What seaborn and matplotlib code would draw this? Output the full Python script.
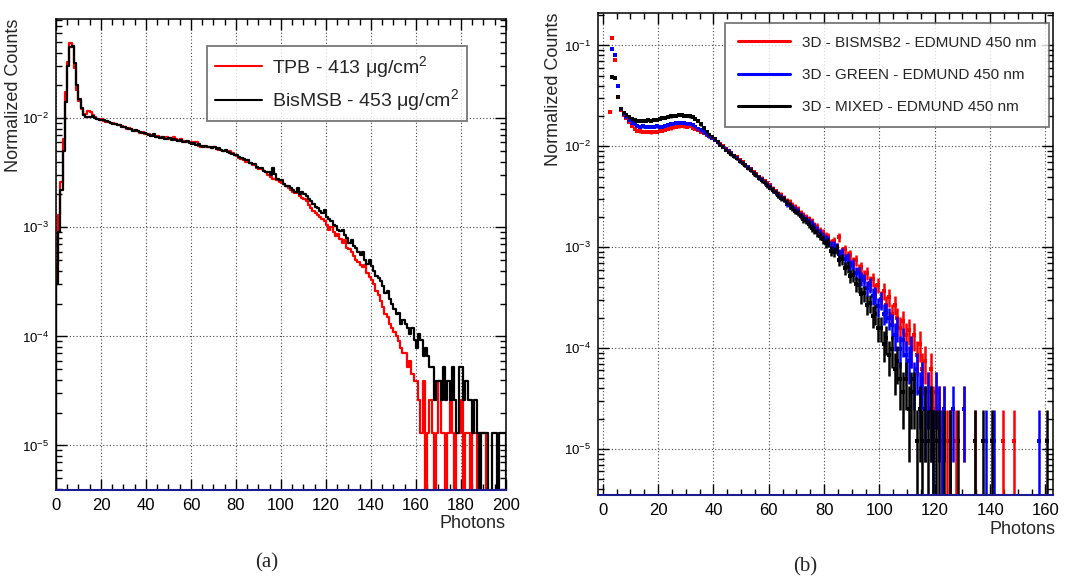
import numpy as np
import pandas as pd
import matplotlib
matplotlib.use("Agg")
import matplotlib.pyplot as plt
import seaborn as sns
from matplotlib.lines import Line2D
from matplotlib.ticker import LogLocator, NullFormatter, MultipleLocator

# ---------------- data (values in units of 1e-4) ----------------
UNIT = 1e-4
a_edges = np.arange(0, 201)
a_tpb = [4.5, 13, 26, 65, 175, 330, 490, 460, 290, 180,
         145, 122, 108, 110, 116, 114, 106, 103, 99, 96,
         98, 95, 93, 92, 90, 91, 88, 87, 86, 85,
         83, 80, 81, 79, 78, 76, 77, 74, 75, 72,
         71, 72, 70, 70, 68, 69, 67, 66, 66, 67,
         65, 66, 67, 64, 63, 64, 62, 62, 61, 60,
         61, 59, 60, 56, 55, 56, 55, 54, 54, 53,
         55, 52, 51, 51, 50, 50, 49, 50, 48, 46,
         45, 43, 42, 41, 40, 40, 39, 37, 37, 35,
         34, 34, 33, 32, 30, 29, 28, 28, 27, 26,
         25.5, 25, 24, 23, 22, 21, 20.5, 21, 19.5, 18.5,
         18, 17.5, 16, 15, 14, 13.5, 13, 12.5, 12, 11.5,
         10.5, 9.5, 10, 9, 8.3, 8.6, 7.8, 7.2, 7.6, 6.5,
         6.3, 6.0, 5.5, 5.0, 4.8, 4.5, 4.3, 4.5, 3.8, 3.5,
         3.3, 3.0, 2.6, 2.4, 2.1, 1.85, 1.6, 1.5, 1.3, 1.2,
         1.1, 1.0, 0.9, 0.78, 0.7, 0.7, 0.52, 0.6, 0.45, 0.39,
         0.39, 0.26, 0.13, 0.39, 0, 0.13, 0.26, 0.13, 0, 0.13,
         0.39, 0.13, 0.13, 0, 0.13, 0.26, 0.13, 0, 0.13, 0.13,
         0.26, 0, 0.13, 0.13, 0, 0.13, 0.13, 0, 0.13, 0.13,
         0.13, 0, 0, 0, 0, 0, 0, 0, 0, 0]
a_bismsb = [3.0, 9, 22, 50, 140, 300, 450, 460, 320, 200,
            150, 125, 108, 102, 103, 102, 104, 100, 99, 97,
            97, 96, 94, 93, 91, 89, 89, 86, 87, 84,
            83, 82, 80, 80, 77, 78, 76, 75, 73, 74,
            71, 70, 69, 71, 67, 68, 66, 67, 64, 65,
            66, 63, 64, 63, 62, 63, 61, 60, 62, 59,
            58, 59, 57, 58, 56, 55, 56, 54, 55, 53,
            54, 52, 53, 51, 50, 51, 49, 48, 47, 46,
            46, 44, 43, 42, 41, 41, 39, 38, 38, 36,
            35, 35, 33, 32, 32, 30, 35, 31, 28, 27,
            27, 25, 24, 24, 23, 22, 21, 23, 20, 21,
            20, 19.5, 18, 17.5, 16.5, 15.5, 15, 14, 13.5, 14.5,
            12.5, 12, 11.5, 10.5, 10.2, 9.5, 9.2, 9.4, 8.5, 8.0,
            7.2, 7.6, 6.8, 6.5, 6.0, 5.6, 5.9, 5.0, 4.6, 5.0,
            4.4, 4.0, 3.6, 3.4, 3.2, 2.9, 2.5, 2.6, 2.2, 2.0,
            1.8, 1.6, 1.65, 1.3, 1.4, 1.3, 1.2, 1.05, 1.2, 0.92,
            0.79, 1.05, 0.92, 0.66, 0.79, 0.66, 0.52, 0.52, 0.26, 0.39,
            0.39, 0.26, 0.52, 0.26, 0.39, 0.26, 0.52, 0.26, 0.13, 0.52,
            0.52, 0.26, 0.39, 0.26, 0.26, 0.13, 0.26, 0.13, 0, 0.13,
            0.13, 0.13, 0, 0, 0.13, 0.13, 0, 0.13, 0.13, 0.13]
a_labels = ["TPB - 413 \u03bcg/cm$^{2}$", "BisMSB - 453 \u03bcg/cm$^{2}$"]

ONE_COUNT_B = 0.123  # one count, same units
b_red = [0, 0, 220, 1200, 710, 310, 230, 205, 190, 175,
         160, 150, 143, 141, 140, 139, 140, 138, 139, 140,
         142, 143, 146, 148, 151, 154, 157, 158, 160, 158,
         157, 159, 153, 150, 145, 140, 136, 131, 126, 121,
         116, 110, 105, 100, 95, 90, 86, 81, 78, 73,
         70, 66, 63, 60, 56, 53, 50, 48, 45, 43,
         41, 38, 36, 34, 33, 31, 29, 28, 26, 25,
         24, 22, 21, 20, 19, 18, 16.5, 16, 14.5, 14,
         13, 12.5, 11, 11.5, 10, 12.5, 9, 9.5, 8.2, 8.4,
         7.0, 7.4, 6.0, 6.3, 5.2, 5.6, 4.4, 4.8, 3.7, 4.2,
         3.1, 3.7, 2.7, 3.2, 2.2, 2.7, 2.0, 1.6, 1.85, 1.35,
         1.5, 0.98, 1.35, 0.86, 1.1, 0.62, 0.74, 0.37, 0.62, 0.25,
         0.37, 0.25, 0.12, 0.25, 0.12, 0.12]
b_red_tail_bins = [127, 130, 134, 144, 148]
b_red_tail_vals = [0.12, 0.25, 0.12, 0.12, 0.12]

b_blue = [0, 0, 0, 930, 810, 395, 235, 210, 195, 182,
          172, 165, 160, 157, 158, 156, 157, 155, 156, 158,
          157, 155, 160, 164, 166, 168, 170, 171, 172, 170,
          168, 167, 162, 157, 150, 144, 138, 132, 126, 121,
          116, 110, 104, 99, 94, 89, 85, 80, 77, 72,
          69, 65, 62, 59, 55, 52, 49, 47, 44, 42,
          40, 37, 35, 33, 32, 30, 27, 26, 25, 24,
          23, 21, 20, 19, 18, 17, 16, 15, 14, 13,
          12, 11.8, 10.5, 10.3, 9.8, 8.5, 8.8, 7.6, 7.8, 6.5,
          6.8, 5.6, 5.5, 4.9, 4.7, 3.9, 4.2, 3.3, 3.4, 2.6,
          3.0, 2.2, 2.3, 2.0, 1.7, 1.35, 1.6, 0.98, 1.2, 0.86,
          0.74, 0.98, 0.49, 0.62, 0.37, 0.49, 0.25, 0.37, 0.25, 0.12,
          0.37, 0.25, 0.12, 0.25, 0, 0.12]
b_blue_tail_bins = [126, 130, 138, 141, 157]
b_blue_tail_vals = [0.25, 0.25, 0.12, 0.12, 0.12]

b_black = [0, 0, 0, 490, 480, 310, 235, 215, 205, 195,
           188, 183, 180, 178, 180, 179, 182, 180, 184, 183,
           186, 190, 192, 196, 198, 200, 202, 204, 203, 202,
           200, 198, 194, 188, 178, 165, 152, 140, 131, 125,
           118, 111, 104, 99, 93, 88, 84, 80, 76, 72,
           68, 65, 61, 58, 54, 52, 49, 46, 44, 41,
           39, 37, 35, 33, 31, 30, 28, 26, 24.5, 23,
           22, 20.5, 19, 18.5, 17, 15.5, 15, 14, 13, 12,
           11, 11.2, 9.2, 9.0, 9.6, 7.4, 7.6, 6.2, 6.4, 5.2,
           5.3, 4.3, 4.2, 3.4, 3.5, 2.7, 2.8, 2.1, 2.2, 1.6,
           1.6, 1.1, 1.25, 0.86, 0.98, 0.62, 0.74, 0.49, 0.37, 0.49,
           0.25, 0.37, 0.37, 0.12, 0.25, 0.12, 0.25, 0.12, 0.25, 0.12,
           0.12, 0.12, 0, 0.12, 0, 0.12]
b_black_tail_bins = [128, 134, 137, 140, 160]
b_black_tail_vals = [0.12, 0.12, 0.12, 0.12, 0.12]
b_labels = ["3D - BISMSB2 - EDMUND 450 nm", "3D - GREEN - EDMUND 450 nm",
            "3D - MIXED - EDMUND 450 nm"]

# ---------------- style ----------------
sns.set_theme(style="ticks")
plt.rcParams["font.family"] = ["Liberation Sans", "DejaVu Sans"]
plt.rcParams["mathtext.fontset"] = "custom"
plt.rcParams["mathtext.rm"] = "Liberation Sans"
plt.rcParams["mathtext.it"] = "Liberation Sans:italic"
plt.rcParams["axes.linewidth"] = 1.1

fig = plt.figure(figsize=(10.83, 5.8), dpi=100)
axA = fig.add_axes([0.0517, 0.155, 0.4155, 0.812])
axB = fig.add_axes([0.552, 0.1466, 0.420, 0.831])


def style_axis(ax, xlim, ylim):
    ax.set_yscale("log")
    ax.set_xlim(*xlim)
    ax.set_ylim(*ylim)
    ax.xaxis.set_major_locator(MultipleLocator(20))
    ax.xaxis.set_minor_locator(MultipleLocator(5))
    ax.yaxis.set_major_locator(LogLocator(base=10, numticks=20))
    ax.yaxis.set_minor_locator(LogLocator(base=10, subs=np.arange(2, 10), numticks=100))
    ax.yaxis.set_minor_formatter(NullFormatter())
    ax.tick_params(which="both", direction="in", top=True, right=True,
                   colors="black", width=1)
    ax.tick_params(axis="x", which="major", labelsize=12, length=8, pad=6)
    ax.tick_params(axis="y", which="major", labelsize=9.5, length=8, pad=5)
    ax.tick_params(which="minor", length=4)
    ax.grid(True, which="major", ls=(0, (1, 2)), color="#444444", lw=0.8)
    ax.set_xlabel("")
    ax.set_ylabel("")
    for s in ax.spines.values():
        s.set_color("black")
        s.set_linewidth(1.1)
    ax.spines["bottom"].set_color("#1c1c90")
    ax.spines["bottom"].set_linewidth(1.5)


# ---------------- panel (a): step histograms ----------------
for vals, col in [(a_tpb, "#ff0000"), (a_bismsb, "black")]:
    v = np.array(vals, float) * UNIT
    yy = np.concatenate([[1e-12], v, [1e-12]])
    xx = np.concatenate([[a_edges[0]], a_edges])
    dfa = pd.DataFrame({"photons": xx, "w": np.maximum(yy, 1e-12)})
    sns.lineplot(data=dfa, x="photons", y="w", drawstyle="steps-post", estimator=None,
                 sort=False, color=col, linewidth=1.6, ax=axA)
style_axis(axA, (0, 200), (3.9e-6, 0.081))
hA = [Line2D([], [], color="#ff0000", lw=1.5), Line2D([], [], color="black", lw=1.5)]
legA = axA.legend(hA, a_labels, loc="upper left", bbox_to_anchor=(0.336, 0.943),
                  fontsize=14, frameon=True, fancybox=False, edgecolor="#555555",
                  handlelength=2.4, handletextpad=0.55, borderpad=0.4, labelspacing=0.4,
                  borderaxespad=0)
legA.get_frame().set_linewidth(1.3)

# ---------------- panel (b): points with error bars ----------------
series_b = [(b_red, b_red_tail_bins, b_red_tail_vals, "#ff0000"),
            (b_blue, b_blue_tail_bins, b_blue_tail_vals, "#0000ff"),
            (b_black, b_black_tail_bins, b_black_tail_vals, "black")]
for body, tb, tv, col in series_b:
    bins = np.concatenate([np.arange(len(body)), np.array(tb)])
    vals = np.concatenate([np.array(body, float), np.array(tv, float)])
    keep = vals > 0
    x = bins[keep] + 0.5
    y = vals[keep] * UNIT
    err = np.sqrt(y * ONE_COUNT_B * UNIT)
    lo = np.minimum(err, y - 1e-12)
    axB.errorbar(x, y, yerr=[lo, err], fmt="none", ecolor=col, elinewidth=1.8, capsize=0)
    sns.scatterplot(x=x, y=y, color=col, marker="s", s=8, linewidth=0, ax=axB)
style_axis(axB, (-1.8, 162.6), (3.5e-6, 0.21))
hB = [Line2D([], [], color=c, lw=2.2) for c in ["#ff0000", "#0000ff", "black"]]
legB = axB.legend(hB, b_labels, loc="upper left", bbox_to_anchor=(0.279, 0.98),
                  fontsize=11, frameon=True, fancybox=False, edgecolor="#555555",
                  handlelength=3.4, handletextpad=0.8, borderpad=0.85, labelspacing=1.2,
                  borderaxespad=0)
legB.get_frame().set_linewidth(1.3)

# ---------------- labels ----------------
fig.text(14 / 1083, 0.968, "Normalized Counts", rotation=90, ha="center", va="top", fontsize=13)
fig.text(554 / 1083, 0.978, "Normalized Counts", rotation=90, ha="center", va="top", fontsize=13)
fig.text(0.467, 1 - 523 / 580, "Photons", ha="right", va="center", fontsize=13)
fig.text(0.975, 1 - 529 / 580, "Photons", ha="right", va="center", fontsize=13)
fig.text(267 / 1083, 1 - 563 / 580, "(a)", ha="center", va="center", fontsize=15,
         family=["Liberation Serif", "DejaVu Serif"])
fig.text(805 / 1083, 1 - 567 / 580, "(b)", ha="center", va="center", fontsize=15,
         family=["Liberation Serif", "DejaVu Serif"])

fig.savefig("out.png", dpi=100, facecolor="white")
